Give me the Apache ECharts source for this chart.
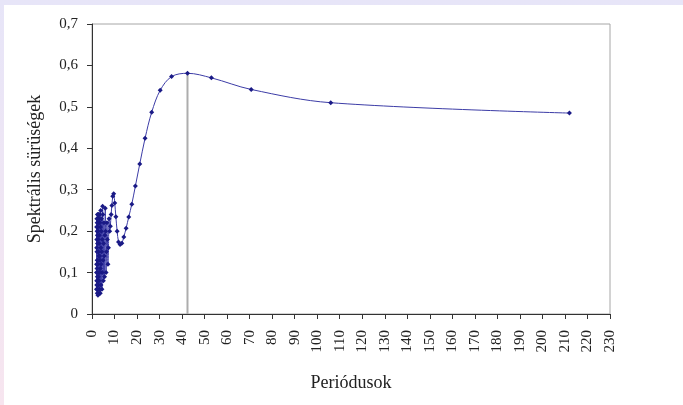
<!DOCTYPE html>
<html>
<head>
<meta charset="utf-8">
<script src="https://cdn.jsdelivr.net/npm/echarts@6/dist/echarts.min.js"></script>
<style>
  html, body { margin: 0; padding: 0; }
  body { width: 683px; height: 405px; background: linear-gradient(#e7e5f8, #f7e5ef); position: relative; overflow: hidden; }
  #chart { position: absolute; left: 4px; top: 5px; width: 679px; height: 400px; background: #fff; }
</style>
</head>
<body>
<div id="chart"></div>
<script>
// periodusok (x) es spektralis surusegek (y)
var periods = [
  212, 106, 70.67, 53, 42.4, 35.33, 30.29, 26.5, 23.56, 21.2,
  19.27, 17.67, 16.31, 15.14, 14.13, 13.25, 12.47, 11.78, 11.16, 10.6,
  10.1, 9.64, 9.22, 8.83, 8.48, 8.15, 7.85, 7.57, 7.31, 7.07,
  6.84, 6.63, 6.42, 6.24, 6.06, 5.89, 5.73, 5.58, 5.44, 5.30,
  5.17, 5.05, 4.93, 4.82, 4.71, 4.61, 4.51, 4.42, 4.33, 4.24,
  4.16, 4.08, 4.00, 3.93, 3.85, 3.79, 3.72, 3.66, 3.59, 3.53,
  3.48, 3.42, 3.37, 3.31, 3.26, 3.21, 3.16, 3.12, 3.07, 3.03,
  2.99, 2.94, 2.90, 2.86, 2.83, 2.79, 2.75, 2.72, 2.68, 2.65,
  2.62, 2.59, 2.55, 2.52, 2.49, 2.47, 2.44, 2.41, 2.38, 2.36,
  2.33, 2.30, 2.28, 2.26, 2.23, 2.21, 2.19, 2.16, 2.14, 2.12,
  2.10, 2.08, 2.06, 2.04, 2.02, 2.00
];
var density = [
  0.485, 0.510, 0.542, 0.570, 0.581, 0.573, 0.540, 0.487, 0.424, 0.362,
  0.309, 0.265, 0.234, 0.207, 0.186, 0.171, 0.168, 0.174, 0.200, 0.235,
  0.268, 0.290, 0.284, 0.262, 0.240, 0.212, 0.200, 0.230, 0.160, 0.120,
  0.180, 0.220, 0.150, 0.100, 0.200, 0.255, 0.190, 0.090, 0.140, 0.220,
  0.170, 0.080, 0.130, 0.240, 0.260, 0.180, 0.100, 0.060, 0.150, 0.230,
  0.200, 0.120, 0.070, 0.160, 0.250, 0.210, 0.110, 0.050, 0.130, 0.220,
  0.240, 0.140, 0.060, 0.100, 0.190, 0.230, 0.170, 0.080, 0.050, 0.140,
  0.220, 0.240, 0.150, 0.070, 0.090, 0.180, 0.240, 0.200, 0.100, 0.045,
  0.120, 0.210, 0.230, 0.130, 0.060, 0.080, 0.170, 0.240, 0.190, 0.090,
  0.050, 0.130, 0.220, 0.200, 0.110, 0.060, 0.150, 0.230, 0.180, 0.080,
  0.070, 0.160, 0.210, 0.120, 0.060, 0.100
];
var yTicks = [0, 0.1, 0.2, 0.3, 0.4, 0.5, 0.6, 0.7];
var xMax = 230;

var chartData = [];
for (var i = 0; i < periods.length; i++) {
  chartData.push([periods[i], density[i]]);
}
// a csucs (legnagyobb ertek) helye
var peak = 0;
for (var j = 1; j < density.length; j++) {
  if (density[j] > density[peak]) peak = j;
}

var serif = 'Liberation Serif';
var myChart = echarts.init(document.getElementById('chart'));

var option = {
  animation: false,
  grid: {
    left: 88, right: 73, top: 19, bottom: 91,
    show: true, borderColor: '#a6a6a6', borderWidth: 1
  },
  xAxis: {
    type: 'value',
    min: 0, max: xMax, interval: 10,
    name: 'Periódusok',
    nameLocation: 'middle',
    nameGap: 60,
    nameTextStyle: { fontFamily: serif, fontSize: 18, color: '#222' },
    axisLine: { show: true, lineStyle: { color: '#333', width: 1 } },
    axisTick: { show: true, length: 5, lineStyle: { color: '#333' } },
    axisLabel: { rotate: 90, margin: 16, fontFamily: serif, fontSize: 15, color: '#222' },
    splitLine: { show: false }
  },
  yAxis: {
    type: 'value',
    min: yTicks[0], max: yTicks[yTicks.length - 1], interval: 0.1,
    name: 'Spektrális sürüségek',
    nameLocation: 'middle',
    nameGap: 48,
    nameRotate: 90,
    nameTextStyle: { fontFamily: serif, fontSize: 18, color: '#222' },
    axisLine: { show: true, lineStyle: { color: '#333', width: 1 } },
    axisTick: { show: true, length: 5, lineStyle: { color: '#333' } },
    axisLabel: {
      margin: 14, fontFamily: serif, fontSize: 15, color: '#222',
      formatter: function (v) { return String(Math.round(v * 10) / 10).replace('.', ','); }
    },
    splitLine: { show: false }
  },
  series: [
    {
      type: 'line',
      data: [[periods[peak], 0], [periods[peak], density[peak]]],
      symbol: 'none',
      lineStyle: { color: '#adadad', width: 2 },
      z: 1
    },
    {
      type: 'line',
      data: chartData,
      smooth: 0.35,
      symbol: 'diamond',
      symbolSize: 5,
      itemStyle: { color: '#1a1a86' },
      lineStyle: { color: '#3c3ca6', width: 1 },
      z: 2
    }
  ]
};
myChart.setOption(option);
</script>
</body>
</html>
